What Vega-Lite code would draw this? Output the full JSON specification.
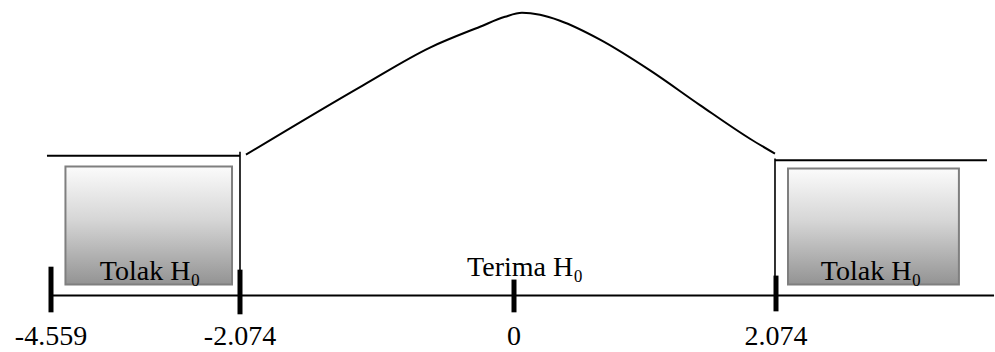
{
  "$schema": "https://vega.github.io/schema/vega-lite/v6.json",
  "width": 995,
  "height": 352,
  "padding": 0,
  "autosize": {"type": "fit", "contains": "padding"},
  "background": "white",
  "config": {"view": {"stroke": null}},
  "datasets": {
    "curve": [
      {"t": -2.029, "d": 0.1993},
      {"t": -1.143, "d": 0.2975},
      {"t": -0.636, "d": 0.3509},
      {"t": -0.257, "d": 0.3804},
      {"t": -0.068, "d": 0.3944},
      {"t": 0.063, "d": 0.4000},
      {"t": 0.206, "d": 0.3972},
      {"t": 0.364, "d": 0.3888},
      {"t": 0.681, "d": 0.3621},
      {"t": 1.077, "d": 0.3186},
      {"t": 1.472, "d": 0.2695},
      {"t": 1.868, "d": 0.2218},
      {"t": 2.066, "d": 0.2007}
    ],
    "vlines": [
      {"t": -2.074, "top": 0.2035, "bottom": 0},
      {"t": 2.066, "top": 0.1937, "bottom": 0}
    ],
    "hlines": [
      {"t1": -4.612, "t2": -2.074, "y": 0.1979},
      {"t1": 2.066, "t2": 3.744, "y": 0.1913},
      {"t1": -4.559, "t2": 3.80, "y": 0}
    ],
    "ticks": [
      {"t": -4.559, "lo": -0.0239, "hi": 0.0407, "label": "-4.559"},
      {"t": -2.074, "lo": -0.0267, "hi": 0.0365, "label": "-2.074"},
      {"t": 0, "lo": -0.0239, "hi": 0.0225, "label": "0"},
      {"t": 2.074, "lo": -0.0225, "hi": 0.0281, "label": "2.074"}
    ],
    "boxes": [
      {"t1": -4.369, "t2": -2.179, "top": 0.1825, "bottom": 0.0154},
      {"t1": 2.169, "t2": 3.522, "top": 0.1796, "bottom": 0.0154}
    ],
    "regions": [
      {"t": -3.257, "y": 0.0225, "text": "Tolak H₀"},
      {"t": 0.087, "y": 0.0281, "text": "Terima H₀"},
      {"t": 2.826, "y": 0.0225, "text": "Tolak H₀"}
    ]
  },
  "layer": [
    {
      "data": {"name": "boxes"},
      "mark": {"type": "rect", "fill": "#d4d4d4", "opacity": 0.7, "xOffset": 4, "yOffset": 4},
      "encoding": {
        "x": {"field": "t1", "type": "quantitative", "axis": null,
              "scale": {"domain": [-4.559, -2.074, 0, 2.074], "range": [51, 240, 514, 776], "nice": false, "zero": false}},
        "x2": {"field": "t2"},
        "y": {"field": "top", "type": "quantitative", "axis": null,
              "scale": {"domain": [-0.0758, 0.4182], "nice": false, "zero": false}},
        "y2": {"field": "bottom"}
      }
    },
    {
      "data": {"name": "boxes"},
      "mark": {"type": "rect", "stroke": "#7f7f7f", "strokeWidth": 2,
               "fill": {"gradient": "linear", "x1": 0, "y1": 0, "x2": 0, "y2": 1,
                        "stops": [{"offset": 0, "color": "#fbfbfb"}, {"offset": 0.45, "color": "#d6d6d6"}, {"offset": 1, "color": "#939393"}]}},
      "encoding": {
        "x": {"field": "t1", "type": "quantitative"},
        "x2": {"field": "t2"},
        "y": {"field": "top", "type": "quantitative"},
        "y2": {"field": "bottom"}
      }
    },
    {
      "data": {"name": "curve"},
      "mark": {"type": "line", "color": "black", "strokeWidth": 2, "interpolate": "monotone"},
      "encoding": {
        "x": {"field": "t", "type": "quantitative"},
        "y": {"field": "d", "type": "quantitative"}
      }
    },
    {
      "data": {"name": "vlines"},
      "mark": {"type": "rule", "color": "black", "strokeWidth": 1.6},
      "encoding": {
        "x": {"field": "t", "type": "quantitative"},
        "y": {"field": "top", "type": "quantitative"},
        "y2": {"field": "bottom"}
      }
    },
    {
      "data": {"name": "hlines"},
      "mark": {"type": "rule", "color": "black", "strokeWidth": 2},
      "encoding": {
        "x": {"field": "t1", "type": "quantitative"},
        "x2": {"field": "t2"},
        "y": {"field": "y", "type": "quantitative"}
      }
    },
    {
      "data": {"name": "ticks"},
      "mark": {"type": "rule", "color": "black", "strokeWidth": 5},
      "encoding": {
        "x": {"field": "t", "type": "quantitative"},
        "y": {"field": "hi", "type": "quantitative"},
        "y2": {"field": "lo"}
      }
    },
    {
      "data": {"name": "ticks"},
      "mark": {"type": "text", "font": "Liberation Serif", "fontSize": 28, "color": "black", "align": "center", "baseline": "alphabetic"},
      "encoding": {
        "x": {"field": "t", "type": "quantitative"},
        "y": {"datum": -0.0702},
        "text": {"field": "label"}
      }
    },
    {
      "data": {"name": "regions"},
      "mark": {"type": "text", "font": "Liberation Serif", "fontSize": 28, "color": "black", "align": "center", "baseline": "alphabetic"},
      "encoding": {
        "x": {"field": "t", "type": "quantitative"},
        "y": {"field": "y", "type": "quantitative"},
        "text": {"field": "text"}
      }
    }
  ]
}
